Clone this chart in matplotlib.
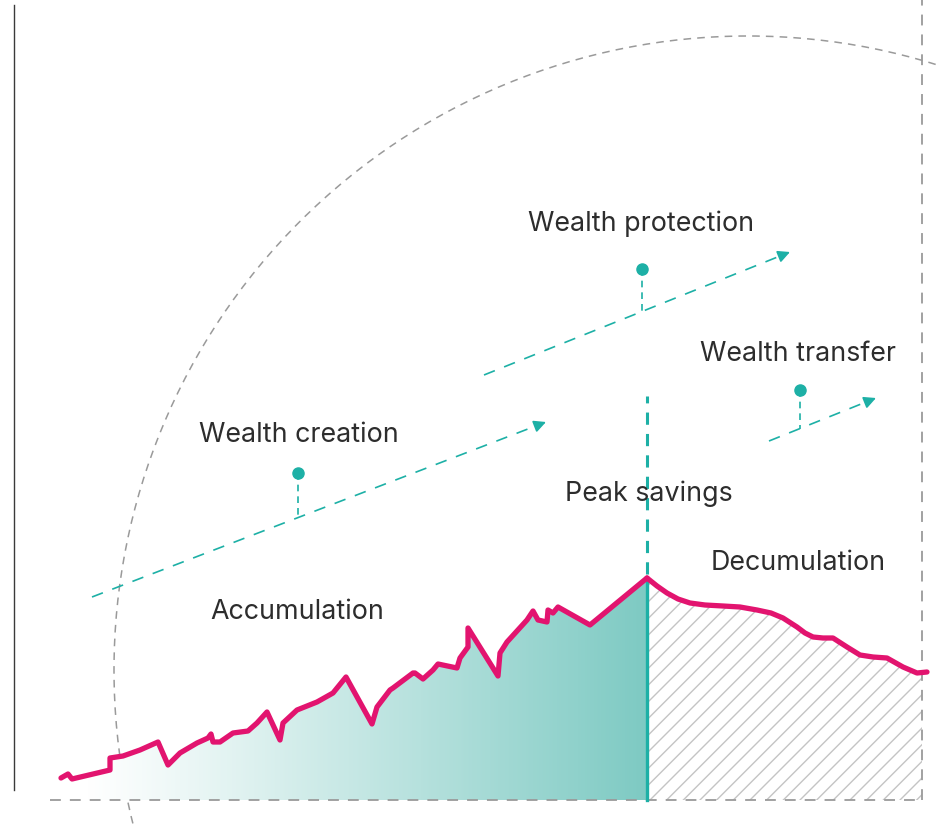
import numpy as np
import matplotlib
matplotlib.use('Agg')
import matplotlib.pyplot as plt
from matplotlib.patches import Circle, Rectangle
from matplotlib.colors import LinearSegmentedColormap

plt.rcParams['font.family'] = ['Inter', 'DejaVu Sans']
plt.rcParams['hatch.linewidth'] = 1.0
plt.rcParams['hatch.color'] = '#c4c4c4'

# wealth path, accumulation phase (x = life stage, y = wealth above baseline)
acc_x = [61, 68, 72, 110, 110, 123, 140, 158, 168, 180, 197, 208, 211, 213, 220,
         233, 248, 257, 267, 280, 283, 297, 317, 333, 346, 372, 377, 390, 393,
         413, 415, 423, 433, 438, 457, 460, 468, 468, 498, 500, 507, 527, 533,
         538, 547, 548, 553, 558, 590, 647]
acc_y = [22, 26, 21, 30, 42, 44, 50, 58, 35, 47, 57, 62, 66, 58, 58,
         67, 69, 77, 88, 60, 77, 90, 98, 107, 123, 76, 93, 110, 112,
         127, 127, 121, 130, 136, 132, 142, 153, 172, 124, 147, 158, 180, 189,
         180, 178, 190, 187, 193, 175, 222]

# wealth path, decumulation phase
dec_x = [647, 657, 667, 678, 690, 705, 723, 740, 757, 771, 783, 797, 805, 813,
         823, 833, 847, 860, 873, 887, 903, 917, 927]
dec_y = [222, 214, 207, 201, 197, 195, 194, 193, 190, 187, 182, 173, 167, 163,
         162, 162, 153, 145, 143, 142, 133, 127, 128]

peak_x = 647
right_edge = 922

# dashed arrows: (start, end, pin)
arrows = {
    'creation':   ((92, 203), (546, 378), (298, 327)),
    'protection': ((484, 425), (790, 548), (642, 531)),
    'transfer':   ((769, 359), (876, 402), (800, 410)),
}

labels = [
    ('Wealth protection', 641, 576),
    ('Wealth transfer', 798, 446),
    ('Wealth creation', 299, 365),
    ('Peak savings', 649, 306),
    ('Decumulation', 798, 237),
    ('Accumulation', 297, 188),
]

pink = '#e2146f'
teal = '#1db0a6'
grey = '#9a9a9a'
text_col = '#2d2d2d'

fig = plt.figure(figsize=(9.37, 8.24), dpi=100)
ax = fig.add_axes([0, 0, 1, 1])
ax.set_xlim(0, 937)
ax.set_ylim(-24, 800)
ax.axis('off')

# frame lines
ax.plot([14, 14], [10, 795], color='#3a3a3a', lw=1.0)
ax.plot([50, right_edge], [0, 0], color=grey, lw=1.3, dashes=(6, 5))
ax.plot([right_edge, right_edge], [0, 800], color=grey, lw=1.3, dashes=(6, 5))

# big dashed arc
ax.add_patch(Circle((748, 130), 634, fill=False, edgecolor=grey, lw=1.1,
                    linestyle=(0, (5, 4))))

# accumulation gradient fill
poly = ax.fill_between(acc_x, acc_y, 0, facecolor='none', edgecolor='none')
cmap = LinearSegmentedColormap.from_list('acc', ['#ffffff', '#7ecac3'])
grad = np.linspace(0, 1, 256).reshape(1, -1) ** 1.1
img = ax.imshow(grad, cmap=cmap, extent=(85, peak_x, 0, 240), aspect='auto',
                origin='lower', zorder=1)
img.set_clip_path(poly.get_paths()[0], transform=ax.transData)
ax.fill_between([55, 85], [240, 240], 0, color='white', zorder=0)

# decumulation hatched fill
hatch = ax.fill_between(dec_x, dec_y, 0, facecolor='white', edgecolor='#c4c4c4',
                        hatch='//', lw=0, zorder=1)
hatch.set_clip_path(Rectangle((peak_x, 0), right_edge - peak_x, 300,
                              transform=ax.transData))

# peak savings marker
ax.plot([peak_x, peak_x], [0, acc_y[-1]], color=teal, lw=2.4, zorder=3)
ax.plot([peak_x, peak_x], [acc_y[-1] + 4, 404], color=teal, lw=2.2,
        dashes=(4, 3), zorder=3)

# wealth line
ax.plot(acc_x, acc_y, color=pink, lw=3.8, solid_joinstyle='round',
        solid_capstyle='round', zorder=4)
ax.plot(dec_x, dec_y, color=pink, lw=3.8, solid_joinstyle='round',
        solid_capstyle='round', zorder=4)

# wealth stage arrows with pins
for key, (start, end, pin) in arrows.items():
    sx, sy = start
    ex, ey = end
    d = np.array([ex - sx, ey - sy], dtype=float)
    d /= np.hypot(*d)
    ax.plot([sx, ex - 8 * d[0]], [sy, ey - 8 * d[1]], color=teal, lw=1.2,
            dashes=(7, 6))
    ax.annotate('', xy=(ex, ey), xytext=(ex - 10 * d[0], ey - 10 * d[1]),
                arrowprops=dict(arrowstyle='-|>', color=teal, lw=1.2,
                                mutation_scale=18, shrinkA=0, shrinkB=0))
    px, py = pin
    base_y = sy + (px - sx) * (ey - sy) / (ex - sx)
    ax.plot([px, px], [py, base_y], color=teal, lw=1.2, dashes=(4, 3))
    ax.plot(px, py, 'o', color=teal, ms=8)

for txt, x, y in labels:
    ax.text(x, y, txt, ha='center', va='center', fontsize=19.3,
            color=text_col)

fig.savefig('out.png', dpi=100)
